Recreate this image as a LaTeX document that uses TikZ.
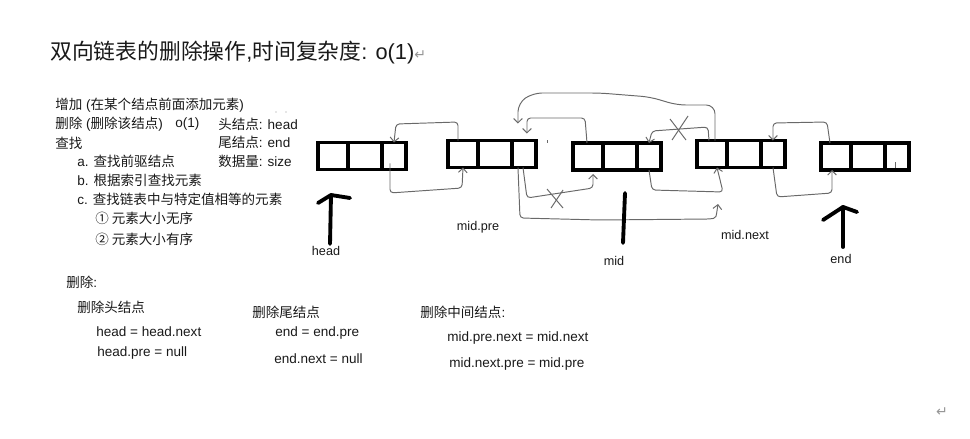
\documentclass[tikz,border=0pt]{standalone}
\usepackage{fontspec}
\setmainfont{Liberation Sans}
\newfontfamily\cjk{Noto Sans CJK SC}
\newfontfamily\dejavu{DejaVu Sans}
\usetikzlibrary{arrows.meta,calc}
\definecolor{textcol}{RGB}{25,25,25}
\definecolor{linkgray}{RGB}{105,105,105}
\definecolor{markgray}{RGB}{150,150,150}
\newcommand\dlnode[3]{%
  \node[cellbox, minimum width=0.6cm] (#1a) at (#2,#3) {};
  \node[cellbox, minimum width=0.68cm] (#1b) at (#1a.east) {};
  \node[cellbox, minimum width=0.48cm] (#1c) at (#1b.east) {};}
\begin{document}
\begin{tikzpicture}[x=0.02cm, y=-0.02cm,
  cellbox/.style={draw=black, line width=2.1pt, minimum height=0.54cm, inner sep=0pt, outer sep=0pt, anchor=west},
  link/.style={draw=linkgray, line width=0.55pt, rounded corners=2pt},
  tip/.style={-{Straight Barb[length=2.5pt,width=5pt]}},
  boldline/.style={line width=2.2pt, line cap=round, line join=round, draw=black},
  txt/.style={anchor=west, inner sep=0pt, text=textcol, font=\fontsize{7.7pt}{9pt}\selectfont},
  lbl/.style={inner sep=0pt, text=textcol, font=\fontsize{7.2pt}{8.5pt}\selectfont}]
\fill[white] (0,0) rectangle (970,439);
\useasboundingbox (0,0) rectangle (970,439);

% title
\node[anchor=west, inner sep=0pt, text=textcol, font=\fontsize{12.4pt}{15pt}\selectfont] (title) at (50,53)
  {{\cjk 双向链表的删除操作},{\cjk 时间复杂度}: o(1){\dejavu\fontsize{8pt}{9pt}\selectfont\color{markgray}↵}};

% left text block
\node[txt] (t1) at (55,105) {{\cjk 增加} ({\cjk 在某个结点前面添加元素})};
\node[txt] (t2) at (55,124) {{\cjk 删除} ({\cjk 删除该结点})};
\node[txt] (t2o) at (175,124) {o(1)};
\node[txt] (t3) at (55,143) {{\cjk 查找}};
\node[txt] (t3a) at (77,161) {a. {\cjk 查找前驱结点}};
\node[txt] (t3b) at (77,180) {b. {\cjk 根据索引查找元素}};
\node[txt] (t3c) at (77,199) {c. {\cjk 查找链表中与特定值相等的元素}};
\node[txt] (t3c1) at (95,218) {{\cjk ① 元素大小无序}};
\node[txt] (t3c2) at (95,239) {{\cjk ② 元素大小有序}};
\node[txt] (th) at (218,124) {{\cjk 头结点}: head};
\node[txt] (te) at (218,142) {{\cjk 尾结点}: end};
\node[txt] (ts) at (218,161) {{\cjk 数据量}: size};
\fill[markgray] (276,112) circle (0.35pt);
\fill[markgray] (286,112) circle (0.35pt);

% bottom text
\node[txt] (b0) at (66,282) {{\cjk 删除}:};
\node[txt] (b1) at (77,307) {{\cjk 删除头结点}};
\node[txt] (b1a) at (96,332) {head = head.next};
\node[txt] (b1b) at (97,353) {head.pre = null};
\node[txt] (b2) at (252,312) {{\cjk 删除尾结点}};
\node[txt] (b2a) at (275,333) {end = end.pre};
\node[txt] (b2b) at (274,359) {end.next = null};
\node[txt] (b3) at (420,312) {{\cjk 删除中间结点}:};
\node[txt] (b3a) at (447,338) {mid.pre.next = mid.next};
\node[txt] (b3b) at (449,364) {mid.next.pre = mid.pre};
\node[inner sep=0pt, text=markgray, font=\dejavu\fontsize{8pt}{9pt}\selectfont] (ret) at (942,412) {↵};

% list nodes
\dlnode{n1}{318}{156}
\dlnode{n2}{448}{154}
\dlnode{n3}{573}{156.5}
\dlnode{n4}{697}{154}
\dlnode{n5}{821}{156.5}

% connectors
\draw[link,tip] ($(n2a.north)+(-5,0)$) -- (458,122) -- (396,124) -- (n1c.north);
\draw[link,tip] ($(n1c.south)+(-4,-6)$) -- (390,193) -- (462,188) -- (n2a.south);
\coordinate (newnext) at (718,204);
\draw[link,tip] ($(n2c.south)+(-6,0)$) -- (520,218) -- (600,220) -- (710,219) .. controls (716,218) .. (newnext);
\draw[link,tip] ($(n2c.south)+(-1,0)$) -- (527,198) -- (593,188) -- ($(n3a.south)+(5,4)$);
\draw[link] (547,189) -- (563,208);
\draw[link] (563,190) -- (551,208);
\draw[link,tip] ($(n3a.north)+(-1,0)$) -- (585,118) -- (527,118) -- ($(n2c.north)+(3,-7)$);
\draw[link,tip,rounded corners=5pt] ($(n4a.north)+(3,0)$) -- (715,105) -- (677,105) -- (650,97) -- (600,93) -- (533,93) -- (518,103) -- ($(n2c.north)+(-6,-17)$);
\draw[link,tip] ($(n4a.north)+(-3,0)$) -- (708,127) -- (652,131) -- (n3c.north);
\draw[link] (670,119) -- (686,140);
\draw[link] (688,116) -- (672,140);
\draw[link,tip] (n3c.south) -- (652,190) -- (723,192) -- ($(n4a.south)+(5,0)$);
\draw[link,tip] ($(n5a.north)+(-6,0)$) -- (827,122) -- (773,123) -- (n4c.north);
\draw[link,tip] (n4c.south) -- (777,197) -- (832,193) -- ($(n5a.south)+(-4,0)$);
\draw[link] (895,162) -- (895,168);
\draw[link] (547,140) -- (547,143);

% labels and thick pointers
\node[lbl] (hl) at (326,251) {head};
\node[lbl] (mpl) at (478,227) {mid.pre};
\node[lbl] (ml) at (614,261) {mid};
\node[lbl] (mnl) at (745,235) {mid.next};
\node[lbl] (el) at (841,259) {end};

\coordinate (htip) at (331,195);
\draw[boldline] ($(hl.north)+(4,-2)$) -- (htip);
\draw[boldline] ($(htip)+(-13,8)$) -- (htip) -- ($(htip)+(19,3)$);
\coordinate (mtop) at (625,193);
\draw[boldline] ($(ml.north)+(9,-13)$) -- (mtop);
\coordinate (etip) at (843,207);
\draw[boldline] ($(el.north)+(2,-7)$) -- (etip);
\draw[boldline] ($(etip)+(-20,13)$) -- (etip) -- ($(etip)+(14,5)$);
\end{tikzpicture}
\end{document}
